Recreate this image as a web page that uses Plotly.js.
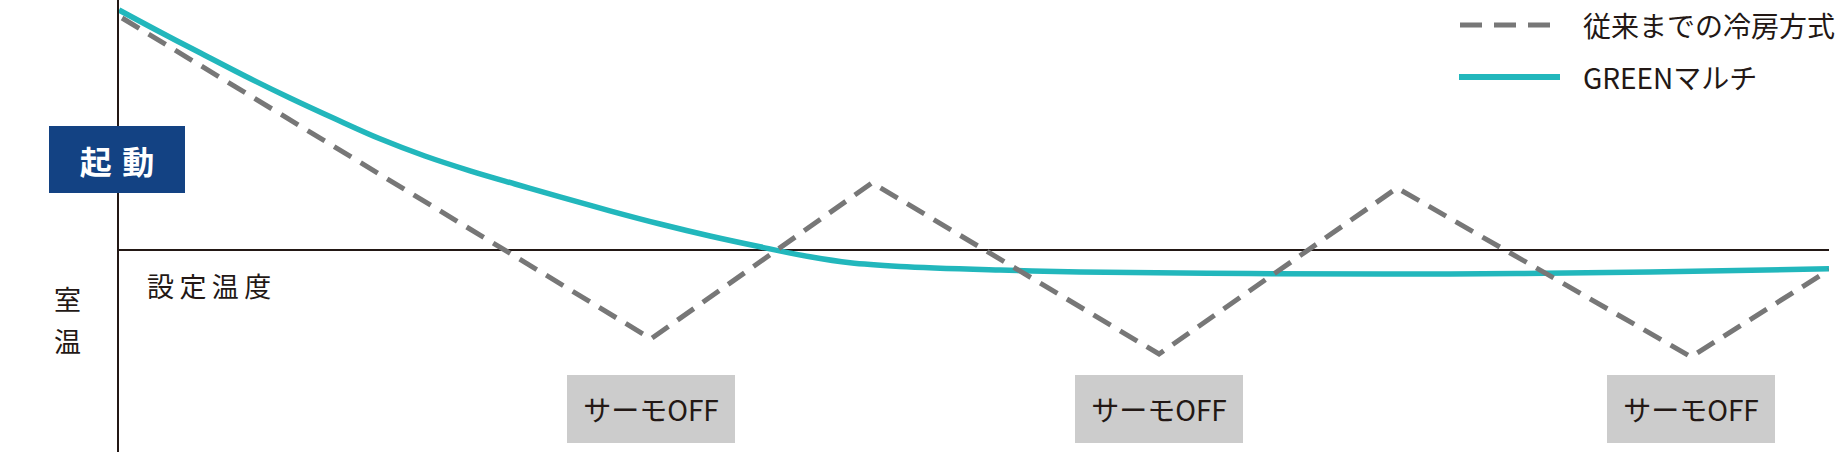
<!DOCTYPE html>
<html>
<head>
<meta charset="utf-8">
<script src="https://cdn.plot.ly/plotly-3.0.1.min.js"></script>
<style>
  html, body { margin: 0; padding: 0; background: #ffffff; }
  #chart { width: 1841px; height: 452px; }
</style>
</head>
<body>
<div id="chart"></div>
<script>
// ---- data (time in arbitrary minutes, room temperature in °C) ----
const SET_TEMP = 26;
const SET_TEMP_LABEL = "設定温度";
const AXIS_LABEL_CHARS = ["室", "温"];
const START_LABEL = "起\u2004動";
const THERMO_OFF_LABEL = "サーモOFF";

const conventionalName = "従来までの冷房方式";
const conventionalX = [0.18, 31.11, 44.04, 60.82, 74.74, 91.93, 100.0];
const conventionalY = [31.80, 23.78, 27.68, 23.40, 27.55, 23.33, 25.50];

const greenName = "GREENマルチ";
const greenX = [0.00, 2.40, 4.74, 7.37, 10.00, 12.63, 15.26, 17.89, 20.53, 23.16,
                25.79, 28.71, 31.64, 34.56, 37.49, 40.41, 42.75, 45.67, 51.52, 56.20,
                66.14, 77.84, 89.53, 100.0];
const greenY = [32.00, 31.45, 30.93, 30.35, 29.80, 29.28, 28.78, 28.35, 27.98, 27.65,
                27.33, 26.98, 26.65, 26.35, 26.08, 25.83, 25.68, 25.59, 25.50, 25.45,
                25.41, 25.40, 25.45, 25.53];

// indices of the thermo-off minima on the conventional curve
const thermoOffIdx = [1, 3, 5];

// ---- style ----
const GRAY = "#777777";
const TEAL = "#22b7bc";
const NAVY = "#134283";
const INK = "#231815";
const BOX = "#cccccc";
const FONT = "'Noto Sans CJK JP', 'Noto Sans', sans-serif";

const W = 1841, H = 452;
const ML = 119, MR = 12;
const PW = W - ML - MR;
const px2paperX = px => (px - ML) / PW;
const py2paperY = py => 1 - py / H;

const traces = [
  {
    x: greenX, y: greenY, name: greenName, type: "scatter", mode: "lines",
    line: { color: TEAL, width: 5.5, shape: "spline", smoothing: 1 },
    hoverinfo: "skip"
  },
  {
    x: conventionalX, y: conventionalY, name: conventionalName, type: "scatter", mode: "lines",
    line: { color: GRAY, width: 5, dash: "20px,11px" },
    hoverinfo: "skip"
  }
];

const annotations = [];
// start badge
annotations.push({
  xref: "paper", yref: "paper", x: px2paperX(117), y: py2paperY(159.5),
  xanchor: "center", yanchor: "middle", showarrow: false,
  text: "<b>" + START_LABEL + "</b>",
  font: { family: FONT, size: 32, color: "#ffffff" },
  bgcolor: NAVY, width: 136, height: 67, borderpad: 0, borderwidth: 0
});
// set temperature label
annotations.push({
  xref: "paper", yref: "paper", x: px2paperX(145), y: py2paperY(285),
  xanchor: "left", yanchor: "middle", showarrow: false,
  text: SET_TEMP_LABEL.split("").join("\u2009"),
  font: { family: FONT, size: 27, color: INK }
});
// vertical axis label
AXIS_LABEL_CHARS.forEach((c, i) => {
  annotations.push({
    xref: "paper", yref: "paper", x: px2paperX(67), y: py2paperY(298 + 42 * i),
    xanchor: "center", yanchor: "middle", showarrow: false,
    text: c, font: { family: FONT, size: 27, color: INK }
  });
});
// thermo-off boxes under each minimum
thermoOffIdx.forEach(i => {
  annotations.push({
    xref: "x", yref: "paper", x: conventionalX[i], y: py2paperY(409),
    xanchor: "center", yanchor: "middle", showarrow: false,
    text: THERMO_OFF_LABEL, font: { family: FONT, size: 28, color: INK },
    bgcolor: BOX, width: 168, height: 68, borderpad: 0, borderwidth: 0
  });
});
// legend texts
[[conventionalName, 25], [greenName, 77]].forEach(([t, py]) => {
  annotations.push({
    xref: "paper", yref: "paper", x: px2paperX(1581), y: py2paperY(py),
    xanchor: "left", yanchor: "middle", showarrow: false,
    text: t, font: { family: FONT, size: 28, color: INK }
  });
});

const shapes = [
  { type: "line", layer: "below", xref: "paper", yref: "y", x0: 0, x1: 1, y0: SET_TEMP, y1: SET_TEMP,
    line: { color: INK, width: 2 } },
  // legend swatches
  { type: "line", xref: "paper", yref: "paper", x0: px2paperX(1460), x1: px2paperX(1557),
    y0: py2paperY(25), y1: py2paperY(25), line: { color: GRAY, width: 5, dash: "22px,12px" } },
  { type: "line", xref: "paper", yref: "paper", x0: px2paperX(1459), x1: px2paperX(1560),
    y0: py2paperY(77), y1: py2paperY(77), line: { color: TEAL, width: 6 } }
];

const layout = {
  width: W, height: H,
  margin: { l: ML, r: MR, t: 0, b: 0, pad: 0 },
  paper_bgcolor: "#ffffff", plot_bgcolor: "#ffffff",
  showlegend: false,
  xaxis: { range: [0, 100], visible: false, fixedrange: true },
  yaxis: {
    range: [SET_TEMP - 202 / 40, SET_TEMP + 250 / 40],
    showgrid: false, zeroline: false, showticklabels: false, ticks: "",
    showline: true, linecolor: INK, linewidth: 2, fixedrange: true
  },
  annotations: annotations,
  shapes: shapes
};

Plotly.newPlot("chart", traces, layout, { staticPlot: true, displayModeBar: false });
</script>
</body>
</html>
